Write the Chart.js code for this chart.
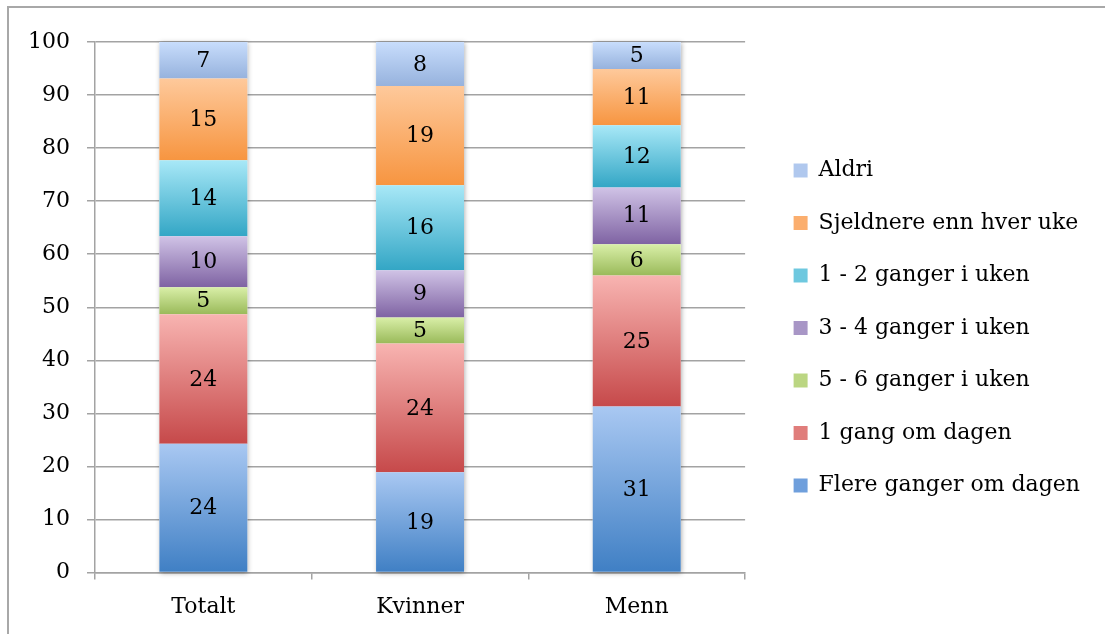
<!DOCTYPE html>
<html>
<head>
<meta charset="utf-8">
<script src="https://cdn.jsdelivr.net/npm/chart.js@4"></script>
<style>
  html, body { margin: 0; padding: 0; background: #fff; overflow: hidden; }
  #frame { position: absolute; left: 7px; top: 6px; width: 1200px; height: 700px;
           border-left: 2px solid #a8a8a8; border-top: 2px solid #a8a8a8; }
  #chart { position: absolute; left: 0; top: 0; }
</style>
</head>
<body>
<div id="frame"></div>
<canvas id="chart" width="1105" height="634"></canvas>
<script>
  // Categories and series (bottom to top of each stack)
  const categories = ['Totalt', 'Kvinner', 'Menn'];
  const seriesNames = [
      'Flere ganger om dagen', '1 gang om dagen', '5 - 6 ganger i uken',
      '3 - 4 ganger i uken', '1 - 2 ganger i uken', 'Sjeldnere enn hver uke', 'Aldri'
  ];
  const flereGanger = [24.3, 18.9, 31.3];
  const enGang = [24.4, 24.3, 24.7];
  const femSeks = [5.1, 4.9, 5.9];
  const treFire = [9.6, 8.9, 10.7];
  const enTo = [14.3, 16.0, 11.7];
  const sjeldnere = [15.4, 18.7, 10.6];
  const aldri = [6.9, 8.3, 5.1];
  const yTicks = [0, 10, 20, 30, 40, 50, 60, 70, 80, 90, 100];

  const seriesValues = [flereGanger, enGang, femSeks, treFire, enTo, sjeldnere, aldri];

  // top / bottom colour of each segment gradient
  const palette = [
      ['#a9c8f2', '#3f7fc4'],
      ['#f8b4b1', '#c6494a'],
      ['#d9efa8', '#9aba5a'],
      ['#d0c3e6', '#7f63a3'],
      ['#a8e8f7', '#33a6c5'],
      ['#fec99b', '#f79540'],
      ['#c8ddfc', '#96b2dd']
  ];
  const mids = ['#6f9fdc', '#e07d7b', '#bbd682', '#a896c6', '#6ec8df', '#fbae6e', '#b0c8ee'];

  Chart.defaults.font.family = '"DejaVu Serif", serif';
  Chart.defaults.font.size = 22;
  Chart.defaults.color = '#000';

  const ctx = document.getElementById('chart').getContext('2d');

  // vertical gradient for every segment, built from the y scale
  function segmentFill(c) {
      const si = c.datasetIndex;
      if (c.type !== 'data') return mids[si];
      const yScale = c.chart.scales.y;
      if (!yScale || !isFinite(yScale.top)) return mids[si];
      let base = 0;
      for (let k = 0; k < si; k++) base += seriesValues[k][c.dataIndex];
      const top = base + seriesValues[si][c.dataIndex];
      const y0 = yScale.getPixelForValue(top);
      const y1 = yScale.getPixelForValue(base);
      const g = c.chart.ctx.createLinearGradient(0, y0, 0, y1);
      g.addColorStop(0, palette[si][0]);
      g.addColorStop(1, palette[si][1]);
      return g;
  }

  const datasets = seriesNames.map((name, i) => ({
      label: name,
      data: seriesValues[i],
      backgroundColor: segmentFill,
      borderWidth: 0,
      categoryPercentage: 1,
      barPercentage: 0.406
  }));

  // soft shadow behind each whole stack
  const stackShadow = {
      id: 'stackShadow',
      beforeDatasetsDraw(chart) {
          const c = chart.ctx;
          const first = chart.getDatasetMeta(0).data;
          const last = chart.getDatasetMeta(chart.data.datasets.length - 1).data;
          c.save();
          c.shadowColor = 'rgba(0,0,0,0.35)';
          c.shadowBlur = 5;
          c.shadowOffsetX = 1;
          c.shadowOffsetY = 1;
          c.fillStyle = '#fff';
          first.forEach((bar, i) => {
              const p = bar.getProps(['x', 'base', 'width'], true);
              const t = last[i].getProps(['y'], true);
              c.fillRect(p.x - p.width / 2, t.y, p.width, p.base - t.y);
          });
          c.restore();
      }
  };

  // value labels in the middle of each segment
  const segmentLabels = {
      id: 'segmentLabels',
      afterDatasetsDraw(chart) {
          const c = chart.ctx;
          c.save();
          c.font = '22px "DejaVu Serif", serif';
          c.fillStyle = '#000';
          c.textAlign = 'center';
          c.textBaseline = 'middle';
          chart.data.datasets.forEach((ds, di) => {
              chart.getDatasetMeta(di).data.forEach((bar, i) => {
                  const p = bar.getProps(['x', 'y', 'base'], true);
                  c.fillText(Math.round(ds.data[i]), p.x, (p.y + p.base) / 2 + 1);
              });
          });
          c.restore();
      }
  };

  const gridColor = '#a3a3a3';

  new Chart(ctx, {
      type: 'bar',
      data: { labels: categories, datasets: datasets },
      options: {
          responsive: false,
          animation: false,
          layout: { padding: { left: 8, top: 22, right: 15, bottom: 0 } },
          plugins: {
              tooltip: { enabled: false },
              legend: {
                  position: 'right',
                  reverse: true,
                  maxWidth: 400,
                  labels: {
                      boxWidth: 14,
                      boxHeight: 14,
                      padding: 30.5,
                      generateLabels(chart) {
                          return chart.data.datasets.map((ds, i) => ({
                              text: ds.label,
                              fillStyle: mids[i],
                              strokeStyle: 'rgba(0,0,0,0)',
                              lineWidth: 0,
                              datasetIndex: i,
                              hidden: false
                          }));
                      }
                  }
              }
          },
          scales: {
              x: {
                  stacked: true,
                  grid: { display: true, drawOnChartArea: false, offset: true, tickLength: 7, color: gridColor, lineWidth: 1.5 },
                  border: { display: true, color: gridColor, width: 1.5 },
                  ticks: { padding: 14 }
              },
              y: {
                  stacked: true,
                  min: 0,
                  max: 100,
                  afterBuildTicks: s => { s.ticks = yTicks.map(v => ({ value: v })); },
                  afterFit: s => { s.width = 87; },
                  grid: { color: gridColor, lineWidth: 1.5, tickLength: 8 },
                  border: { display: true, color: gridColor, width: 1.5 },
                  ticks: { padding: 17 }
              },
              gap: {
                  axis: 'y',
                  position: 'right',
                  display: true,
                  grid: { display: false },
                  border: { display: false },
                  ticks: { display: false },
                  afterFit: s => { s.width = 18; }
              },
              gapTop: {
                  axis: 'x',
                  position: 'top',
                  display: true,
                  grid: { display: false },
                  border: { display: false },
                  ticks: { display: false },
                  afterFit: s => { s.height = 20; }
              }
          }
      },
      plugins: [stackShadow, segmentLabels]
  });
</script>
</body>
</html>
